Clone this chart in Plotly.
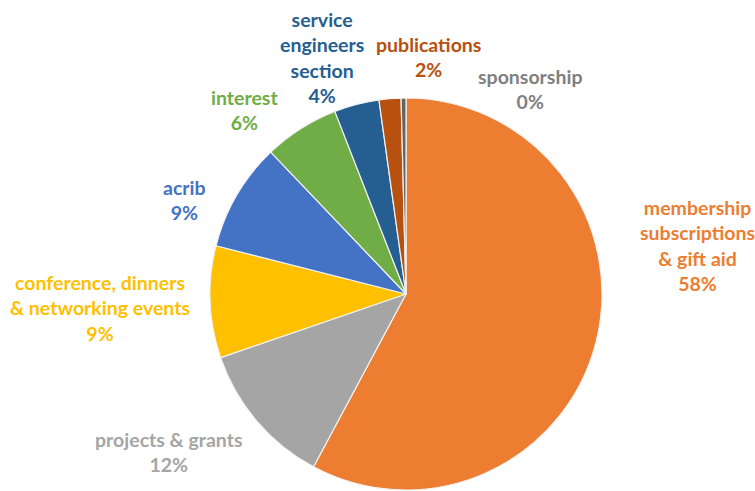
import plotly.graph_objects as go

labels = ["membership<br>subscriptions<br>& gift aid", "projects & grants",
          "conference, dinners<br>& networking events", "acrib", "interest",
          "service<br>engineers<br>section", "publications", "sponsorship"]
values = [57.7, 11.9, 9.2, 8.9, 6.2, 3.7, 1.8, 0.4]
colors = ["#ED7D31", "#A5A5A5", "#FFC000", "#4472C4", "#70AD47", "#255E91", "#B8500F", "#636363"]
text_colors = ["#ED7D31", "#A5A5A5", "#FFC000", "#4472C4", "#70AD47", "#255E91", "#B8500F", "#7F7F7F"]

# label centres in pixels (layout only)
label_pos = [(697, 246), (168, 452), (100, 308), (184, 200), (244, 110),
             (322, 58), (428, 57), (530, 89)]

W, H = 755, 491
cx, cy, r = 406, 294, 196

fig = go.Figure(go.Pie(
    labels=labels, values=values, sort=False, direction="clockwise", rotation=0,
    marker=dict(colors=colors, line=dict(color="#F2F2F2", width=1.2)),
    textinfo="none", hoverinfo="label+percent", showlegend=False,
    domain=dict(x=[(cx - r) / W, (cx + r) / W], y=[1 - (cy + r) / H, 1 - (cy - r) / H]),
))

total = sum(values)
for lab, v, c, (px, py) in zip(labels, values, text_colors, label_pos):
    fig.add_annotation(
        x=px / W, y=1 - py / H, xref="paper", yref="paper",
        text=f"{lab}<br>{round(v / total * 100)}%", showarrow=False,
        xanchor="center", yanchor="middle", align="center",
        font=dict(family="Lato", size=19.5, color=c, weight=700),
    )

fig.update_layout(width=W, height=H, margin=dict(l=0, r=0, t=0, b=0),
                  paper_bgcolor="white", plot_bgcolor="white")
fig.write_html("out.html")
